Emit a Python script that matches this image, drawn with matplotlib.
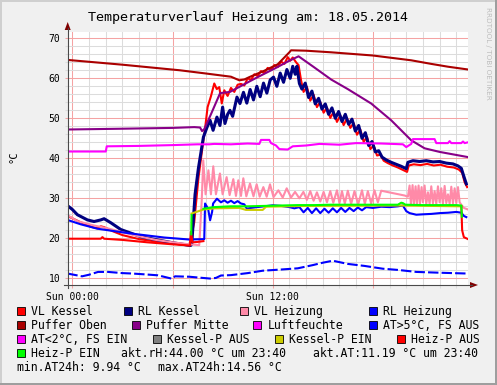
import numpy as np
import matplotlib
matplotlib.use("Agg")
import matplotlib.pyplot as plt
from matplotlib.patches import Polygon, Rectangle

W, H = 497, 385
nan = np.nan

title = "Temperaturverlauf Heizung am: 18.05.2014"
x_ticks = [0, 6, 12, 18]
x_labels = ["Sun 00:00", "", "Sun 12:00", ""]
y_ticks = [10, 20, 30, 40, 50, 60, 70]

# time in hours since Sun 00:00, values in deg C
vl_kessel_t = [-0.3, 0.5, 1.2, 1.5, 1.7, 1.9, 2.4, 3.0, 4.0, 5.0, 6.0, 7.0, 7.3, 7.55, 7.8,
               7.95, 8.1, 8.3, 8.5, 8.65, 8.8, 8.95, 9.1, 9.3, 9.5, 9.7, 9.9, 10.1, 10.3, 10.5,
               10.7, 10.9, 11.1, 11.3, 11.5, 11.7, 11.9, 12.1, 12.3, 12.5, 12.7, 12.9, 13.05,
               13.2, 13.4, 13.55, 13.7, 13.85, 14.05, 14.25, 14.45, 14.65, 14.85, 15.05, 15.25,
               15.45, 15.65, 15.85, 16.05, 16.25, 16.45, 16.65, 16.85, 17.05, 17.25, 17.45,
               17.65, 17.85, 18.05, 18.25, 18.45, 18.65, 18.9, 19.2, 19.5, 19.8, 20.05, 20.15,
               20.45, 20.85, 21.25, 21.65, 22.05, 22.45, 22.85, 23.15, 23.35, 23.5, 23.65]
vl_kessel = [25.6, 24.0, 22.8, 22.5, 23.0, 22.8, 21.8, 20.8, 19.8, 19.2, 18.7, 18.2, 24.0, 35.0, 43.0,
             47.5, 52.8, 55.5, 58.7, 57.3, 57.8, 53.7, 57.0, 55.6, 57.6, 56.6, 58.4, 58.6, 58.2, 60.0,
             59.6, 61.0, 60.6, 61.8, 61.3, 62.6, 62.1, 63.3, 62.8, 64.2, 63.6, 65.3, 64.4,
             65.2, 64.0, 63.3, 59.5, 56.6, 57.9, 54.4, 55.9, 52.8, 54.1, 51.4, 52.7,
             50.1, 51.6, 49.1, 50.7, 48.3, 50.0, 47.6, 48.8, 45.9, 47.2, 44.1,
             45.4, 42.3, 43.2, 40.7, 40.9, 39.4, 38.8, 38.2, 37.7, 37.1, 36.6, 38.2,
             38.5, 38.3, 38.6, 38.2, 38.4, 37.9, 37.7, 37.2, 36.4, 34.0, 32.8]

rl_kessel_t = [-0.3, 0.0, 0.3, 0.9, 1.3, 1.7, 1.9, 2.3, 2.9, 4.1, 5.1, 6.0, 7.08, 7.15, 7.35, 7.55,
               7.75, 7.85, 8.07, 8.25, 8.43, 8.66, 8.84, 9.0, 9.14, 9.3, 9.44, 9.6, 9.86, 10.04,
               10.25, 10.45, 10.65, 10.85, 11.05, 11.25, 11.45, 11.65, 11.85, 12.05, 12.25, 12.45,
               12.65, 12.85, 13.05, 13.2, 13.35, 13.45, 13.6, 13.75, 13.95, 14.15, 14.35, 14.55,
               14.75, 14.95, 15.15, 15.35, 15.55, 15.75, 15.95, 16.15, 16.35, 16.55, 16.75, 16.95,
               17.15, 17.35, 17.55, 17.75, 17.95, 18.15, 18.35, 18.55, 18.8, 19.1, 19.4, 19.7,
               20.0, 20.1, 20.4, 20.8, 21.2, 21.6, 22.0, 22.4, 22.8, 23.1, 23.3, 23.45, 23.6]
rl_kessel = [28.2, 27.2, 25.9, 24.6, 24.2, 24.6, 24.9, 23.9, 22.2, 20.4, 19.6, 18.9, 18.2, 18.5, 31.0, 37.5,
             42.7, 45.3, 47.8, 49.5, 47.0, 50.3, 48.2, 52.8, 48.7, 51.0, 52.0, 50.5, 55.3, 53.7,
             56.5, 53.8, 57.2, 54.6, 58.0, 55.4, 58.8, 56.3, 59.6, 60.3, 58.0, 61.3,
             59.0, 62.2, 60.0, 63.0, 61.0, 63.0, 58.7, 57.3, 58.8, 55.2, 56.8, 53.6,
             55.0, 52.3, 53.6, 51.0, 52.6, 50.0, 51.7, 49.2, 51.0, 48.5, 49.8, 46.8,
             48.2, 45.0, 46.4, 43.2, 44.2, 41.6, 41.9, 40.3, 39.6, 39.0, 38.5, 38.0,
             37.4, 39.0, 39.4, 39.2, 39.4, 39.1, 39.2, 38.8, 38.6, 38.1, 37.5, 35.5, 33.6]

vl_heizung_t = [-0.3, 0.3, 1.2, 2.2, 3.2, 4.0, 5.0, 6.0, 7.0, 7.6, 7.75, 7.84, 7.98, 8.15, 8.3, 8.44,
                8.6, 8.84, 9.0, 9.24, 9.42, 9.64, 9.8, 9.94, 10.1, 10.24, 10.42, 10.64, 10.85, 11.04,
                11.22, 11.44, 11.64, 11.84, 12.05, 12.34, 12.6, 12.84, 13.1, 13.34, 13.6, 13.84,
                14.05, 14.25, 14.45, 14.65, 14.85, 15.05, 15.25, 15.45, 15.63, 15.85, 16.0, 16.15,
                16.32, 16.5, 16.7, 16.9, 17.12, 17.35, 17.52, 17.7, 17.9, 18.1, 18.3, 18.5, 19.2,
                19.9, 20.1, 20.2, 20.28, 20.38, 20.46, 20.56, 20.64, 20.74, 20.82, 20.92, 21.0,
                21.1, 21.2, 21.3, 21.4, 21.5, 21.6, 21.7, 21.8, 21.9, 22.0, 22.1, 22.2, 22.3, 22.4,
                22.5, 22.6, 22.7, 22.8, 22.9, 23.0, 23.1, 23.2, 23.3, 23.45, 23.7]
vl_heizung = [25.8, 24.3, 23.3, 22.4, 21.3, 20.5, 19.6, 19.0, 18.5, 18.3, 29.5, 39.5, 31.0, 37.0, 31.0, 38.0,
              31.0, 36.2, 31.0, 35.3, 30.8, 34.8, 30.6, 34.5, 30.6, 35.0, 30.5, 33.7, 30.5, 33.5,
              30.4, 32.8, 30.4, 33.5, 30.3, 32.0, 30.2, 32.5, 30.2, 31.6, 30.0, 31.6,
              29.6, 31.8, 29.4, 31.5, 29.2, 31.6, 29.0, 31.8, 28.9, 32.0, 28.8, 31.8,
              28.7, 31.9, 28.6, 31.8, 28.5, 32.0, 28.6, 31.8, 28.7, 32.0, 29.0, 31.9, 31.3,
              30.7, 30.4, 33.2, 28.5, 33.3, 28.4, 33.0, 28.5, 33.2, 28.6, 32.8, 29.0,
              33.2, 28.5, 31.5, 28.6, 33.0, 28.7, 31.8, 28.6, 33.0, 29.0, 32.5, 28.5, 33.1, 28.8,
              31.0, 28.6, 32.9, 28.7, 32.5, 28.8, 32.8, 29.0, 28.4, 27.6, 27.2]

rl_heizung_t = [-0.3, 0.5, 1.5, 2.5, 3.5, 4.5, 5.5, 7.0, 7.9, 7.95, 8.13, 8.25, 8.37, 8.43, 8.66, 8.9,
                9.1, 9.3, 9.5, 9.7, 9.9, 10.1, 10.3, 10.45, 10.7, 11.05, 11.5, 12.0, 12.5, 13.0,
                13.3, 13.6, 13.85, 14.1, 14.35, 14.6, 14.85, 15.1, 15.35, 15.6, 15.85, 16.1, 16.35,
                16.6, 16.85, 17.1, 17.35, 17.6, 18.0, 18.5, 19.0, 19.5, 19.8, 20.0, 20.2, 20.6,
                21.0, 21.5, 22.0, 22.5, 23.0, 23.3, 23.45, 23.6]
rl_heizung = [24.6, 23.5, 22.4, 21.8, 21.2, 20.7, 20.2, 19.7, 19.8, 28.7, 27.4, 24.5, 26.6, 28.7, 29.9, 29.0,
              29.5, 28.9, 29.4, 28.8, 29.3, 28.7, 28.5, 27.4, 27.6, 27.8, 28.0, 28.25, 28.1, 27.8,
              27.5, 27.8, 26.5, 27.6, 26.3, 27.5, 26.3, 27.4, 26.4, 27.5, 26.5, 27.6, 26.6,
              27.6, 26.8, 27.7, 27.0, 27.8, 27.6, 27.9, 27.8, 28.0, 28.2, 26.8, 26.3, 25.9,
              26.0, 26.1, 26.3, 26.4, 26.6, 26.4, 25.6, 25.3]

puffer_oben_t = [-0.3, 3.0, 6.45, 8.0, 9.5, 10.0, 10.3, 10.6, 11.5, 12.3, 13.0, 13.1, 14.0, 15.5,
                 18.0, 20.3, 21.5, 22.5, 23.7]
puffer_oben = [64.6, 63.4, 62.0, 61.2, 60.4, 59.5, 59.7, 60.3, 61.9, 63.5, 66.5, 67.0, 66.9, 66.5,
               65.7, 64.5, 63.6, 62.9, 62.2]

puffer_mitte_t = [-0.3, 3.0, 6.0, 7.3, 7.65, 7.77, 7.9, 8.3, 8.85, 9.44, 10.2, 11.1, 12.1, 13.0,
                  13.55, 14.5, 15.5, 16.5, 17.9, 19.1, 20.3, 21.1, 22.0, 23.7]
puffer_mitte = [47.2, 47.4, 47.6, 47.8, 47.7, 46.8, 47.3, 51.0, 56.3, 56.6, 58.3, 60.3, 62.4, 64.4,
                65.5, 62.7, 59.7, 57.3, 53.7, 49.5, 44.5, 42.5, 41.6, 40.3]

luftfeuchte_t = [-0.3, 2.0, 2.06, 4.0, 6.0, 7.5, 8.2, 8.5, 9.5, 10.5, 11.2, 11.3, 11.8, 11.9, 12.2,
                 12.4, 12.9, 13.2, 14.0, 14.8, 16.0, 17.0, 18.5, 19.8, 20.0, 20.3, 20.4, 21.7,
                 21.8, 22.5, 22.6, 22.7, 23.3, 23.4, 23.5, 23.7]
luftfeuchte = [41.7, 41.7, 43.0, 43.1, 43.3, 43.5, 43.5, 43.6, 43.5, 43.7, 43.6, 44.6, 44.6, 43.8, 43.2,
               42.3, 42.2, 43.0, 43.2, 43.6, 43.4, 43.8, 43.7, 43.5, 42.8, 43.6, 44.8, 44.8,
               43.8, 43.8, 44.3, 43.8, 43.8, 44.2, 43.8, 44.0]

aussen_t = [-0.3, 0.58, 1.0, 1.54, 2.14, 3.0, 3.57, 4.3, 5.13, 5.97, 6.15, 7.0, 7.53, 8.25, 8.6,
            8.9, 9.5, 10.5, 11.4, 12.5, 13.5, 14.4, 15.0, 15.6, 16.5, 17.5, 18.6, 19.5, 20.6,
            22.0, 23.7]
aussen = [11.2, 10.5, 10.9, 11.6, 11.6, 11.3, 11.2, 11.0, 10.75, 9.9, 10.5, 10.4, 10.2, 9.94, 10.1,
          10.7, 10.8, 11.3, 11.9, 12.2, 12.5, 13.3, 13.9, 14.4, 13.6, 13.1, 12.4, 12.1, 11.6,
          11.4, 11.19]

kessel_p_ein_t = [7.14, 7.5, 7.85, 8.5, 10.0, 10.4, 11.4, 11.6, 14.0, 19.7, 23.3]
kessel_p_ein = [26.2, 26.7, 27.2, 27.5, 27.6, 27.1, 27.1, 27.9, 28.1, 28.2, 28.0]

heiz_p_aus_t = [-0.3, 1.7, 1.8, 1.9, 3.0, 4.5, 6.0, 7.05, 7.1, 7.2, 7.5, 7.85, 7.9, 23.3, 23.35,
                23.45, 23.7]
heiz_p_aus = [19.9, 19.9, 20.3, 19.9, 19.6, 19.0, 18.5, 18.2, 21.6, 19.0, 19.1, 19.3, nan, 28.0, 22.0,
              20.3, 19.8]

heiz_p_ein_t = [7.12, 7.14, 7.16, 7.83, 7.85, 8.5, 9.5, 10.5, 11.5, 12.5, 13.5, 14.5, 15.5, 16.5,
                17.5, 18.5, 19.5, 19.7, 19.8, 19.95, 21.0, 22.0, 23.0, 23.3, 23.33]
heiz_p_ein = [21.0, 25.8, nan, nan, 27.4, 27.8, 28.0, 28.0, 28.1, 28.2, 28.3, 28.3, 28.4, 28.4,
              28.4, 28.4, 28.4, 28.9, 28.8, 28.4, 28.3, 28.3, 28.3, 28.2, 25.4]

akt_rh = 44.00
akt_at = 11.19
min_at = 9.94
max_at = 14.56

legend_rows = [
    [("VL Kessel", "#FF0000", 30.7), ("RL Kessel", "#000080", 138.3),
     ("VL Heizung", "#FF8AA8", 254.0), ("RL Heizung", "#0000FF", 382.7)],
    [("Puffer Oben", "#AA0000", 30.7), ("Puffer Mitte", "#880088", 145.7),
     ("Luftfeuchte", "#FF00FF", 267.3), ("AT>5°C, FS AUS", "#0000FF", 382.7)],
    [("AT<2°C, FS EIN", "#FF00FF", 30.7), ("Kessel-P AUS", "#808080", 166.7),
     ("Kessel-P EIN", "#CCCC00", 288.7), ("Heiz-P AUS", "#FF0000", 410.7)],
    [("Heiz-P EIN", "#00FF00", 30.7)],
]
legend_base = [315.3, 329.3, 343.0, 356.8, 371.0]


def fx(x):
    return x / W


def fy(y):
    return 1 - y / H


mono = "DejaVu Sans Mono"
fig = plt.figure(figsize=(W / 100, H / 100), dpi=100, facecolor="#F0F0F0")

# frame shading
fig.add_artist(Rectangle((0, fy(2)), 1, 2 / H, transform=fig.transFigure, color="#CFCFCF", lw=0))
fig.add_artist(Rectangle((0, 0), 2 / W, 1, transform=fig.transFigure, color="#CFCFCF", lw=0))
fig.add_artist(Rectangle((0, 0), 1, 2.5 / H, transform=fig.transFigure, color="#9E9E9E", lw=0))
fig.add_artist(Rectangle((fx(494.5), 0), 2.5 / W, 1, transform=fig.transFigure, color="#9E9E9E", lw=0))

ax = fig.add_axes([fx(67.7), fy(285), fx(468) - fx(67.7), fy(32.3) - fy(285)])
ax.set_facecolor("white")
ax.set_xlim(-0.28, 23.7)
ax.set_ylim(8.33, 71.5)

ax.set_xticks(x_ticks)
ax.set_xticklabels(x_labels, family=mono, fontsize=7)
ax.set_xticks(np.arange(0, 24, 1), minor=True)
ax.set_yticks(y_ticks)
ax.set_yticklabels([str(v) for v in y_ticks], family=mono, fontsize=7)
ax.set_yticks(np.arange(10, 71, 2), minor=True)
ax.grid(which="minor", color="#DCDCDC", lw=0.75)
ax.grid(which="major", color="#F5A3A3", lw=0.75)
ax.set_axisbelow(True)
ax.tick_params(which="major", length=2.2, width=0.75, color="#F5A3A3", pad=3)
ax.tick_params(which="minor", length=2.2, width=0.75, color="#DCDCDC")
ax.tick_params(axis="x", which="major", pad=2.5)
for s in ax.spines.values():
    s.set_visible(False)

lw = 1.5
ax.plot(vl_kessel_t, vl_kessel, color="#FF0000", lw=lw)
ax.plot(rl_kessel_t, rl_kessel, color="#000080", lw=2.2)
ax.plot(vl_heizung_t, vl_heizung, color="#FF8AA8", lw=lw)
ax.plot(rl_heizung_t, rl_heizung, color="#0000FF", lw=lw)
ax.plot(puffer_oben_t, puffer_oben, color="#AA0000", lw=lw)
ax.plot(puffer_mitte_t, puffer_mitte, color="#880088", lw=lw)
ax.plot(luftfeuchte_t, luftfeuchte, color="#FF00FF", lw=lw)
ax.plot(aussen_t, aussen, color="#0000FF", lw=lw, dashes=(5, 1.5))
ax.plot(kessel_p_ein_t, kessel_p_ein, color="#CCCC00", lw=lw)
ax.plot(heiz_p_aus_t, heiz_p_aus, color="#FF0000", lw=lw)
ax.plot(heiz_p_ein_t, heiz_p_ein, color="#00FF00", lw=lw)

# axes with arrows
axis_col = "#4A4A4A"
fig.add_artist(plt.Line2D([fx(67.7), fx(67.7)], [fy(288), fy(28)], color=axis_col, lw=0.8))
fig.add_artist(plt.Line2D([fx(64), fx(472)], [fy(285), fy(285)], color=axis_col, lw=0.8))
fig.add_artist(Polygon([(fx(67.7), fy(22)), (fx(64.7), fy(30)), (fx(70.7), fy(30))],
                       closed=True, transform=fig.transFigure, color="#800000", lw=0))
fig.add_artist(Polygon([(fx(478), fy(285)), (fx(470), fy(282)), (fx(470), fy(288))],
                       closed=True, transform=fig.transFigure, color="#800000", lw=0))

fig.text(fx(248), fy(21), title, ha="center", va="baseline", fontsize=9.6, family=mono)
fig.text(fx(13), fy(157), "°C", rotation=90, ha="center", va="center", fontsize=7.5, family=mono)
fig.text(fx(488), fy(7), "RRDTOOL / TOBI OETIKER", rotation=270, ha="center", va="top",
         fontsize=5.2, color="#BDBDBD")

# legend
for row, yb in zip(legend_rows, legend_base):
    for label, col, tx in row:
        fig.add_artist(Rectangle((fx(tx - 14), fy(yb)), 8 / W, 8 / H, transform=fig.transFigure,
                                 facecolor=col, edgecolor="black", lw=0.6))
        fig.text(fx(tx), fy(yb), label, ha="left", va="baseline", fontsize=8.3, family=mono)

fig.text(fx(121), fy(legend_base[3]), "akt.rH:%.2f °C um 23:40" % akt_rh,
         ha="left", va="baseline", fontsize=8.3, family=mono)
fig.text(fx(312.7), fy(legend_base[3]), "akt.AT:%.2f °C um 23:40" % akt_at,
         ha="left", va="baseline", fontsize=8.3, family=mono)
fig.text(fx(16.7), fy(legend_base[4]), "min.AT24h:%5.2f °C" % min_at,
         ha="left", va="baseline", fontsize=8.3, family=mono)
fig.text(fx(158.3), fy(legend_base[4]), "max.AT24h:%5.2f °C" % max_at,
         ha="left", va="baseline", fontsize=8.3, family=mono)

fig.savefig("out.png", dpi=100, facecolor=fig.get_facecolor())
